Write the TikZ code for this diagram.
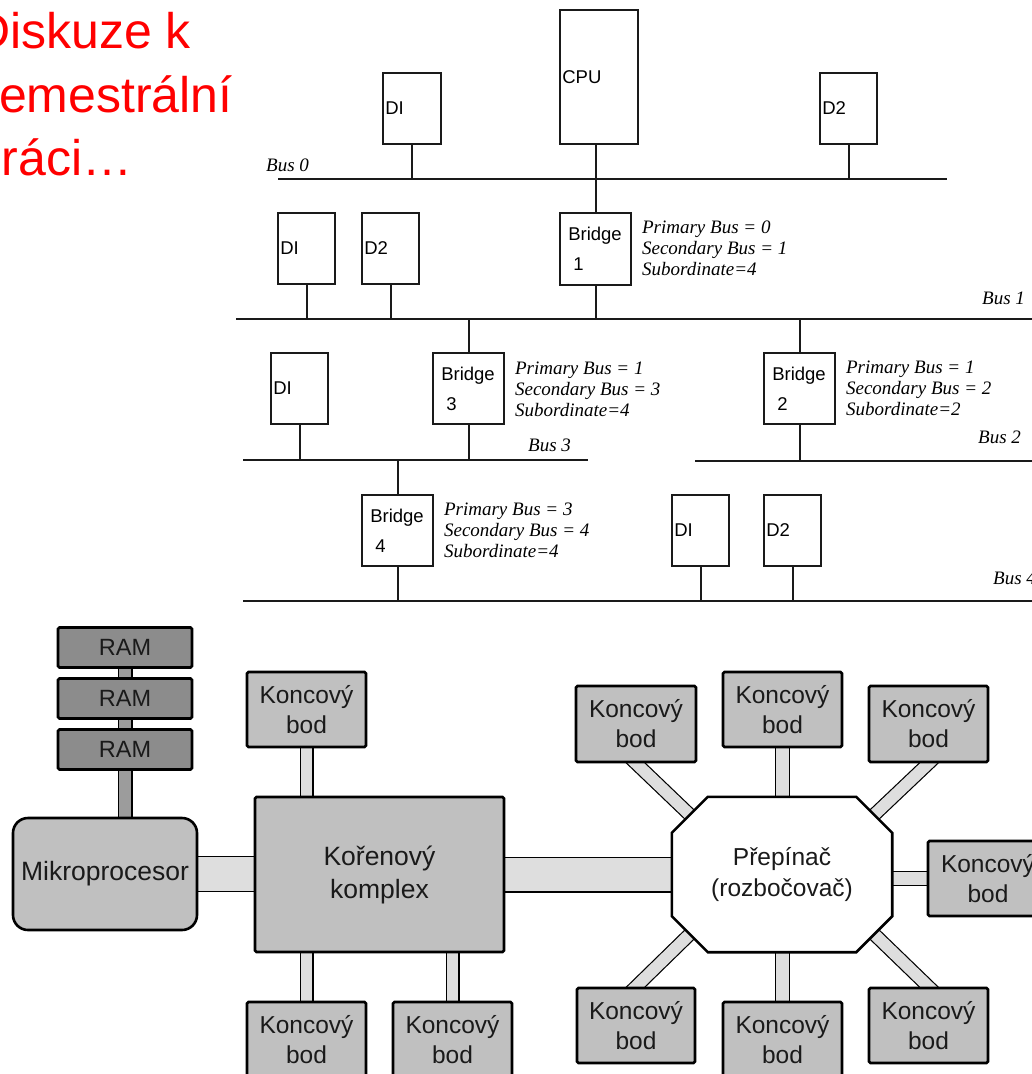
\documentclass[tikz,border=0pt]{standalone}
\usepackage{fontspec}
\setmainfont{Liberation Serif}
\newfontfamily\arial{Liberation Sans}
\usetikzlibrary{calc,backgrounds}
\definecolor{boxgray}{HTML}{C0C0C0}
\definecolor{ramgray}{HTML}{8C8C8C}
\definecolor{barlight}{HTML}{DEDEDE}
\definecolor{bardark}{HTML}{9C9C9C}
\definecolor{ink}{HTML}{1A1A1A}
\begin{document}
\begin{tikzpicture}[x=1pt,y=-1pt,
  redtxt/.style={font=\arial\fontsize{50}{60}\selectfont, text=red, anchor=base west, inner sep=0pt},
  pbox/.style={draw=ink, line width=1.8pt, inner sep=0pt},
  plabel/.style={font=\arial\fontsize{18.5}{30}\selectfont, inner sep=0pt, anchor=west, align=left},
  pinfo/.style={font=\itshape\fontsize{19}{21}\selectfont, inner sep=0pt, anchor=west, align=left},
  buslabel/.style={font=\itshape\fontsize{19}{21}\selectfont, inner sep=0pt, anchor=west},
  busline/.style={draw=ink, line width=2pt},
  tap/.style={draw=ink, line width=2pt},
  kbox/.style={draw=black, line width=2.6pt, fill=boxgray, rounded corners=1.5pt, inner sep=0pt, align=center, text=ink, font=\arial\fontsize{24.5}{30}\selectfont, minimum width=119, minimum height=75},
  rambox/.style={draw=black, line width=2.6pt, fill=ramgray, rounded corners=1.5pt, inner sep=0pt, text=ink, font=\arial\fontsize{23.5}{28}\selectfont, minimum width=134, minimum height=40},
  mpbox/.style={draw=black, line width=2.6pt, fill=boxgray, rounded corners=15, inner sep=0pt, text=ink, font=\arial\fontsize{26.5}{32}\selectfont, minimum width=184, minimum height=112},
  rootbox/.style={draw=black, line width=2.6pt, fill=boxgray, rounded corners=1.5pt, inner sep=0pt, align=center, text=ink, font=\arial\fontsize{26.5}{33}\selectfont, minimum width=249, minimum height=155},
  swtext/.style={inner sep=0pt, align=center, text=ink, font=\arial\fontsize{24.5}{31}\selectfont, minimum width=220, minimum height=155},
  bar/.style={draw=black, line width=1.2pt, double=barlight, double distance=#1},
  ramlink/.style={draw=black, line width=1.2pt, double=bardark, double distance=12.6pt},
  octo/.style={fill=white, draw=black, line width=2.6pt, line join=miter}
]
\useasboundingbox (0,0) rectangle (1032,1074);

% ---------- red title ----------
\node[redtxt] (t1) at (-26,48) {Diskuze k};
\node[redtxt] (t2) at (-26,112) {semestrální};
\node[redtxt] (t3) at (-26,175) {práci…};

% ---------- PCI bus hierarchy ----------
\coordinate (bus0w) at (278,179);   \coordinate (bus0e) at (947,179);
\coordinate (bus1w) at (236,319);   \coordinate (bus1e) at (1040,319);
\coordinate (bus3w) at (243,460);   \coordinate (bus3e) at (588,460);
\coordinate (bus2w) at (695,460.5); \coordinate (bus2e) at (1040,460.5);
\coordinate (bus4w) at (243,601);   \coordinate (bus4e) at (1040,601);

\draw[busline] (bus0w) -- (bus0e);
\draw[busline] (bus1w) -- (bus1e);
\draw[busline] (bus3w) -- (bus3e);
\draw[busline] (bus2w) -- (bus2e);
\draw[busline] (bus4w) -- (bus4e);

\node[buslabel] (lb0) at (266,165) {Bus 0};
\node[buslabel] (lb1) at (982,298) {Bus 1};
\node[buslabel] (lb3) at (528,445) {Bus 3};
\node[buslabel] (lb2) at (978,437) {Bus 2};
\node[buslabel] (lb4) at (993,578) {Bus 4};

% row 0
\node[pbox, minimum width=58, minimum height=71] (di0) at (412,108.5) {};
\node[plabel] (di0t) at ([xshift=3pt]di0.west) {DI};
\node[pbox, minimum width=78, minimum height=134] (cpu) at (599,77) {};
\node[plabel] (cput) at ([xshift=3pt]cpu.west) {CPU};
\node[pbox, minimum width=57, minimum height=71] (d20) at (848.5,108.5) {};
\node[plabel] (d20t) at ([xshift=3pt]d20.west) {D2};

% row 1
\node[pbox, minimum width=57, minimum height=71] (di1) at (306.5,248.5) {};
\node[plabel] (di1t) at ([xshift=3pt]di1.west) {DI};
\node[pbox, minimum width=57, minimum height=71] (d21) at (390.5,248.5) {};
\node[plabel] (d21t) at ([xshift=3pt]d21.west) {D2};
\node[pbox, minimum width=71, minimum height=72] (b1) at (595.5,249) {};
\node[plabel] (b1t) at ([xshift=9pt]b1.west) {Bridge\\\hspace*{5pt}1};
\node[pinfo] (b1i) at ([xshift=10pt,yshift=1pt]b1.east) {Primary Bus = 0\\Secondary Bus = 1\\Subordinate=4};

% row 2
\node[pbox, minimum width=57, minimum height=71] (di3) at (299.5,388.5) {};
\node[plabel] (di3t) at ([xshift=3pt]di3.west) {DI};
\node[pbox, minimum width=71, minimum height=71] (b3) at (468.5,388.5) {};
\node[plabel] (b3t) at ([xshift=9pt]b3.west) {Bridge\\\hspace*{5pt}3};
\node[pinfo] (b3i) at ([xshift=10pt,yshift=-1pt]b3.east) {Primary Bus = 1\\Secondary Bus = 3\\Subordinate=4};
\node[pbox, minimum width=71, minimum height=71] (b2) at (799.5,388.5) {};
\node[plabel] (b2t) at ([xshift=9pt]b2.west) {Bridge\\\hspace*{5pt}2};
\node[pinfo] (b2i) at ([xshift=10pt]b2.east) {Primary Bus = 1\\Secondary Bus = 2\\Subordinate=2};

% row 3
\node[pbox, minimum width=71, minimum height=71] (b4) at (397.5,530.5) {};
\node[plabel] (b4t) at ([xshift=9pt]b4.west) {Bridge\\\hspace*{5pt}4};
\node[pinfo] (b4i) at ([xshift=10pt]b4.east) {Primary Bus = 3\\Secondary Bus = 4\\Subordinate=4};
\node[pbox, minimum width=57, minimum height=71] (di4) at (700.5,530.5) {};
\node[plabel] (di4t) at ([xshift=3pt]di4.west) {DI};
\node[pbox, minimum width=57, minimum height=71] (d24) at (792.5,530.5) {};
\node[plabel] (d24t) at ([xshift=3pt]d24.west) {D2};

% taps
\draw[tap] (di0.south) -- (di0.south |- bus0w);
\draw[tap] (d20.south) -- (d20.south |- bus0w);
\draw[tap] (cpu.south -| b1.north) -- (b1.north);
\draw[tap] (di1.south) -- (di1.south |- bus1w);
\draw[tap] (d21.south) -- (d21.south |- bus1w);
\draw[tap] (b1.south) -- (b1.south |- bus1w);
\draw[tap] (b3.north) -- (b3.north |- bus1w);
\draw[tap] (b3.south) -- (b3.south |- bus3w);
\draw[tap] (di3.south) -- (di3.south |- bus3w);
\draw[tap] (b2.north) -- (b2.north |- bus1w);
\draw[tap] (b2.south) -- (b2.south |- bus2w);
\draw[tap] (b4.north) -- (b4.north |- bus3w);
\draw[tap] (b4.south) -- (b4.south |- bus4w);
\draw[tap] (di4.south) -- (di4.south |- bus4w);
\draw[tap] (d24.south) -- (d24.south |- bus4w);

% ---------- PCI Express topology ----------
\node[rambox] (ram1) at (125,647.5) {RAM};
\node[rambox] (ram2) at (125,698.5) {RAM};
\node[rambox] (ram3) at (125,749.5) {RAM};
\node[mpbox] (mp) at (105,874) {Mikroprocesor};
\node[rootbox] (root) at (379.5,874.5) {Kořenový\\komplex};
\node[kbox] (kr0) at (306.5,709.5) {Koncový\\bod};
\node[kbox] (kr1) at (306.5,1039.5) {Koncový\\bod};
\node[kbox] (kr2) at (452.5,1039.5) {Koncový\\bod};
\node[swtext] (sw) at (782,874.5) {Přepínač\\(rozbočovač)};
\node[kbox, minimum width=120, minimum height=76] (ks1) at (636,724) {Koncový\\bod};
\node[kbox] (ks2) at (782.5,709.5) {Koncový\\bod};
\node[kbox, minimum height=76] (ks3) at (928.5,724) {Koncový\\bod};
\node[kbox, minimum width=120] (ks4) at (988,878.5) {Koncový\\bod};
\node[kbox, minimum width=118] (ks5) at (636,1025.5) {Koncový\\bod};
\node[kbox] (ks6) at (782.5,1039.5) {Koncový\\bod};
\node[kbox] (ks7) at (928.5,1025.5) {Koncový\\bod};

\coordinate (ctl) at ($(sw.north west)+(18,18)$);
\coordinate (ctr) at ($(sw.north east)+(-18,18)$);
\coordinate (cbl) at ($(sw.south west)+(18,-18)$);
\coordinate (cbr) at ($(sw.south east)+(-18,-18)$);

\begin{scope}[on background layer]
  \draw[ramlink] (ram1.south) -- (ram2.north);
  \draw[ramlink] (ram2.south) -- (ram3.north);
  \draw[ramlink] (ram3.south) -- (ram3.south |- mp.north);
  \draw[bar=33.6pt] (mp.east) -- (mp.east -| root.west);
  \draw[bar=11.6pt] (kr0.south) -- (kr0.south |- root.north);
  \draw[bar=11.6pt] (kr1.north) -- (kr1.north |- root.south);
  \draw[bar=11.6pt] (kr2.north) -- (kr2.north |- root.south);
  \draw[bar=33.6pt] (root.east) -- (sw.west);
  \draw[bar=12.6pt] (ks2.south) -- (ks2.south |- sw.north);
  \draw[bar=12.6pt] (ks6.north) -- (ks6.north |- sw.south);
  \draw[bar=12.6pt] (ks4.west) -- (ks4.west -| sw.east);
  \draw[bar=11.6pt] ($(ks1.south)!-10pt!(ctl)$) -- ($(ctl)!-4pt!(ks1.south)$);
  \draw[bar=11.6pt] ($(ks3.south)!-10pt!(ctr)$) -- ($(ctr)!-4pt!(ks3.south)$);
  \draw[bar=11.6pt] ($(ks5.north)!-10pt!(cbl)$) -- ($(cbl)!-4pt!(ks5.north)$);
  \draw[bar=11.6pt] ($(ks7.north)!-10pt!(cbr)$) -- ($(cbr)!-4pt!(ks7.north)$);
  \draw[octo] ($(sw.north west)+(36,0)$) -- ($(sw.north east)+(-36,0)$)
     -- ($(sw.north east)+(0,36)$) -- ($(sw.south east)+(0,-36)$)
     -- ($(sw.south east)+(-36,0)$) -- ($(sw.south west)+(36,0)$)
     -- ($(sw.south west)+(0,-36)$) -- ($(sw.north west)+(0,36)$) -- cycle;
\end{scope}
\end{tikzpicture}
\end{document}
